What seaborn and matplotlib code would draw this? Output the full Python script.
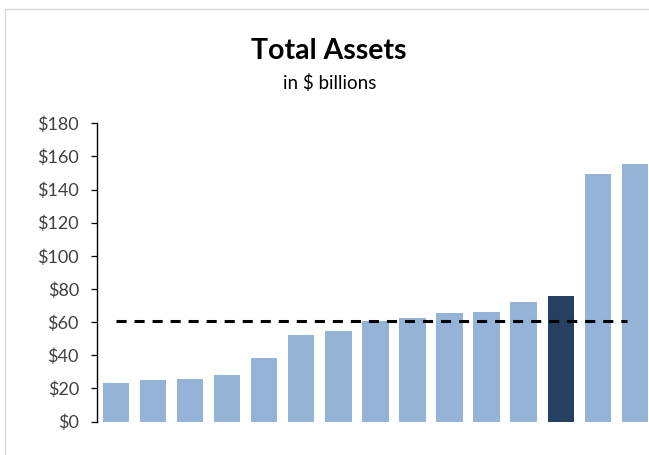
import matplotlib
matplotlib.use("Agg")
import matplotlib.pyplot as plt
from matplotlib.lines import Line2D
from matplotlib.ticker import FuncFormatter
import seaborn as sns
import pandas as pd

# Total assets of each peer institution, $ billions, sorted ascending
peers = ["Peer 1", "Peer 2", "Peer 3", "Peer 4", "Peer 5", "Peer 6", "Peer 7",
         "Peer 8", "Peer 9", "Peer 10", "Peer 11", "Peer 12", "Company",
         "Peer 13", "Peer 14"]
total_assets = [23.1, 25.1, 25.7, 28.3, 38.2, 52.0, 54.6, 60.5,
                62.8, 65.3, 65.9, 71.9, 75.6, 149.3, 155.6]
highlight = "Company"
peer_average = 60.5
y_ticks = [0, 20, 40, 60, 80, 100, 120, 140, 160, 180]

light_blue = "#95B3D7"
dark_blue = "#254061"
text_gray = "#404040"

sns.set_theme(style="white")
plt.rcParams["font.family"] = ["Lato", "DejaVu Sans"]

df = pd.DataFrame({"peer": peers, "assets": total_assets})
palette = {p: (dark_blue if p == highlight else light_blue) for p in peers}

fig = plt.figure(figsize=(6.49, 4.55), dpi=100)
fig.patch.set_facecolor("white")
ax = fig.add_axes([0.1499, 0.0734, 0.857, 0.6556])

sns.barplot(data=df, x="peer", y="assets", hue="peer", palette=palette,
            order=peers, width=0.715, saturation=1, legend=False,
            edgecolor="none", ax=ax)

# peer average benchmark
n = len(peers)
ax.hlines(peer_average, 0, n - 1.22, colors="black", linewidth=2.2,
          linestyles=(0, (3.3, 2.6)), zorder=3)

ax.set_xlim(-0.5, n - 0.5)
ax.set_ylim(y_ticks[0], y_ticks[-1])
ax.set_yticks(y_ticks)
ax.yaxis.set_major_formatter(FuncFormatter(lambda v, _: f"${v:.0f}"))
ax.set_xticks([])
ax.set_xlabel("")
ax.set_ylabel("")

for side in ["top", "right", "bottom"]:
    ax.spines[side].set_visible(False)
ax.spines["left"].set_color("black")
ax.spines["left"].set_linewidth(1.0)
ax.tick_params(axis="y", which="major", direction="out", length=4.3,
               width=0.9, color="black", pad=9, labelsize=13,
               labelcolor=text_gray, left=True)

fig.text(0.506, 0.8697, "Total Assets", ha="center", va="baseline",
         fontsize=20.5, fontweight="bold", color="black")
fig.text(0.508, 0.8037, "in $ billions", ha="center", va="baseline",
         fontsize=13.5, color="black")

# chart area border
border = "#D9D9D9"
fig.add_artist(Line2D([5 / 649, 1.0], [1 - 9 / 455, 1 - 9 / 455],
                      transform=fig.transFigure, color=border, linewidth=1.0))
fig.add_artist(Line2D([5 / 649, 5 / 649], [0.0, 1 - 9 / 455],
                      transform=fig.transFigure, color=border, linewidth=1.0))

fig.savefig("out.png", dpi=100)
